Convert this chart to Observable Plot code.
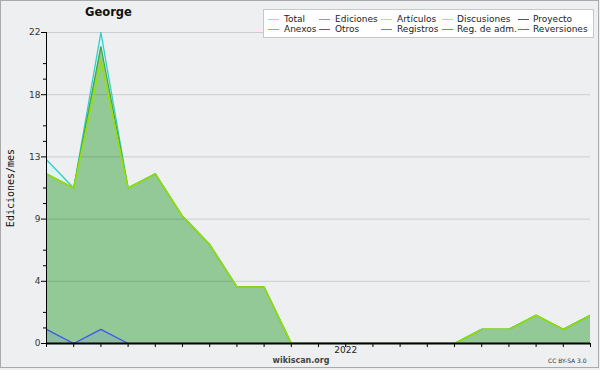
<!DOCTYPE html>
<html>
<head>
<meta charset="utf-8">
<script src="https://cdn.jsdelivr.net/npm/d3@7"></script>
<script src="https://cdn.jsdelivr.net/npm/@observablehq/plot@0.6"></script>
<style>
  html, body { margin: 0; padding: 0; background: #eeeff1; }
  #wrap { position: relative; width: 600px; height: 370px; background: #eeeff1; overflow: hidden; font-family: "DejaVu Sans", sans-serif; }
  #frame { position: absolute; left: 0; top: 0; width: 599px; height: 368px; box-sizing: border-box; border: 1px solid #aaaaaa; pointer-events: none; }
  #plot { position: absolute; left: 0; top: 0; }
  .abs { position: absolute; white-space: nowrap; }
  #title { left: 85px; top: 5px; font-weight: bold; font-size: 11.5px; color: #111; }
  #ytitle { left: 10px; top: 188px; font-family: "DejaVu Sans Mono", monospace; font-size: 10px; color: #111; transform: translate(-50%, -50%) rotate(-90deg); }
  #site { left: 301px; top: 356px; transform: translateX(-50%); font-size: 8px; color: #444; font-weight: bold; }
  #lic { left: 548px; top: 357px; font-size: 6px; color: #333; }
  #legend { left: 263px; top: 9px; width: 331px; height: 29px; box-sizing: border-box; background: #fff; border: 1px solid #c8c8c8; }
  .sw { position: absolute; height: 0; border-top: 1px solid; width: 11px; }
  .lt { position: absolute; font-size: 9px; color: #222; line-height: 10px; }
</style>
</head>
<body>
<div id="wrap">
  <div id="plot"></div>
  <div id="title" class="abs"></div>
  <div id="ytitle" class="abs"></div>
  <div id="site" class="abs"></div>
  <div id="lic" class="abs"></div>
  <div id="legend" class="abs"></div>
  <div id="frame"></div>
</div>
<script>
// ---- data ----
const chartTitle = "George";
const yTitle = "Ediciones/mes";
const siteText = "wikiscan.org";
const licText = "CC BY-SA 3.0";
const months = ["2021-02","2021-03","2021-04","2021-05","2021-06","2021-07","2021-08","2021-09","2021-10","2021-11","2021-12",
                "2022-01","2022-02","2022-03","2022-04","2022-05","2022-06","2022-07","2022-08","2022-09","2022-10"];
const total     = [13, 11, 22, 11, 12, 9, 7, 4, 4, 0, 0, 0, 0, 0, 0, 0, 1, 1, 2, 1, 2];
const ediciones = [12, 11, 21, 11, 12, 9, 7, 4, 4, 0, 0, 0, 0, 0, 0, 0, 1, 1, 2, 1, 2];
const articulos = [12, 11, 20, 11, 12, 9, 7, 4, 4, 0, 0, 0, 0, 0, 0, 0, 1, 1, 2, 1, 2];
const registros = [1, 0, 1, 0, null, null, null, null, null, null, null, null, null, null, null, null, null, null, null, null, null];
const yMajorTicks = [0, 4.4, 8.8, 13.2, 17.6, 22];
const yMinorTicks = [1.1, 2.2, 5.5, 6.6, 9.9, 11, 14.3, 15.4, 18.7, 19.8];
const yearTickMonths = ["2022-01"];
const legendNames  = ["Total","Ediciones","Artículos","Discusiones","Proyecto","Anexos","Otros","Registros","Reg. de adm.","Reversiones"];
const legendColors = ["#88e0e0","#66bb66","#bbee33","#ffcc33","#555555","#ff8844","#8833ee","#6677ff","#dd44ee","#ff3333"];

// ---- build table ----
const rows = months.map((m, i) => ({i, m, total: total[i], ediciones: ediciones[i], articulos: articulos[i], registros: registros[i]}));
const regRows = rows.filter(d => d.registros != null);
const yearIdx = yearTickMonths.map(m => months.indexOf(m));

const chart = Plot.plot({
  width: 600,
  height: 370,
  marginLeft: 46,
  marginRight: 10,
  marginTop: 32,
  marginBottom: 27,
  style: {background: "transparent", fontFamily: "DejaVu Sans", fontSize: "9px", color: "#333", overflow: "visible"},
  x: {type: "linear", domain: [0, months.length - 1], axis: null, label: null},
  y: {domain: [0, 22], axis: null, label: null},
  marks: [
    Plot.areaY(rows, {x: "i", y: "total", fill: "#dcf4f2"}),
    Plot.areaY(rows, {x: "i", y: "ediciones", fill: "#93c996"}),
    Plot.areaY(regRows, {x: "i", y: "registros", fill: "#4466ee", fillOpacity: 0.12}),
    Plot.ruleY(yMajorTicks.filter(v => v > 0), {stroke: "#000", strokeOpacity: 0.14}),
    Plot.lineY(rows, {x: "i", y: "total", stroke: "#33cccc", strokeWidth: 1.3, clip: "frame"}),
    Plot.lineY(rows, {x: "i", y: "ediciones", stroke: "#44a844", strokeWidth: 1.3, clip: "frame"}),
    Plot.lineY(rows, {x: "i", y: "articulos", stroke: "#99e000", strokeWidth: 1.5, clip: "frame"}),
    Plot.lineY(regRows, {x: "i", y: "registros", stroke: "#3d55ee", strokeWidth: 1.2}),
    Plot.axisY({ticks: yMajorTicks, tickFormat: d => String(Math.round(d)), tickSize: 5, tickPadding: 1, stroke: "#000", fill: "#333", fontSize: 9, label: null}),
    Plot.axisY({ticks: yMinorTicks, tickFormat: () => "", tickSize: 3, tickPadding: 0, stroke: "#000", label: null}),
    Plot.axisX({ticks: rows.map(d => d.i), tickFormat: () => "", tickSize: 4, tickPadding: 0, stroke: "#000", label: null}),
    Plot.axisX({ticks: yearIdx, tickFormat: i => months[i].slice(0, 4), tickSize: 0, tickPadding: 3, fill: "#222", fontSize: 9, label: null}),
    Plot.ruleX([0], {stroke: "#000"}),
    Plot.ruleY([0], {stroke: "#000", strokeWidth: 2})
  ]
});
document.getElementById("plot").appendChild(chart);

document.getElementById("title").textContent = chartTitle;
document.getElementById("ytitle").textContent = yTitle;
document.getElementById("site").textContent = siteText;
document.getElementById("lic").textContent = licText;

// legend: 5 columns x 2 rows
const legend = document.getElementById("legend");
const swX = [4, 55, 117, 178, 254];
const txX = [20, 71, 133, 193, 269];
legendNames.forEach((name, k) => {
  const col = k % 5, row = Math.floor(k / 5);
  const sw = document.createElement("div");
  sw.className = "sw";
  sw.style.left = swX[col] + "px";
  sw.style.top = (9 + row * 10) + "px";
  sw.style.borderColor = legendColors[k];
  legend.appendChild(sw);
  const t = document.createElement("div");
  t.className = "lt";
  t.style.left = txX[col] + "px";
  t.style.top = (4 + row * 10) + "px";
  t.textContent = name;
  legend.appendChild(t);
});
</script>
</body>
</html>
